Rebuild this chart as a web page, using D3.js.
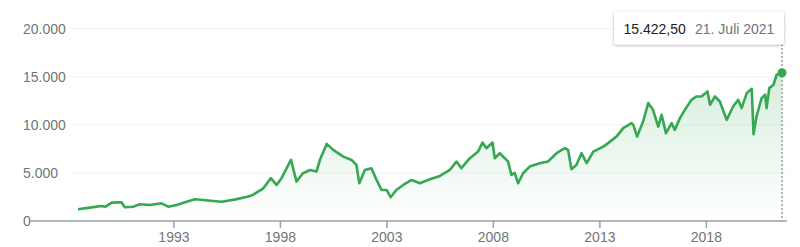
<!DOCTYPE html>
<html>
<head>
<meta charset="utf-8">
<script src="https://cdn.jsdelivr.net/npm/d3@7"></script>
<style>
  html, body { margin: 0; padding: 0; background: #fff; }
  svg { display: block; font-family: Arial, "Liberation Sans", sans-serif; }
</style>
</head>
<body>
<svg id="chart" width="800" height="247"></svg>
<script>
// DAX closing values
const dates = [
  "1988-07-01","1989-01-20","1989-08-05","1989-10-18","1990-01-30","1990-07-16","1990-09-12",
  "1991-02-01","1991-05-25","1991-11-15","1992-06-01","1992-09-25","1993-02-15","1993-08-08",
  "1993-12-30","1994-05-20","1994-11-05","1995-04-01","1995-11-25","1996-07-01","1996-09-15",
  "1997-03-15","1997-07-20","1997-10-28","1998-01-20","1998-07-01","1998-10-05","1999-01-22",
  "1999-05-25","1999-09-12","1999-11-10","2000-03-05","2000-06-25","2000-12-15","2001-05-05",
  "2001-07-28","2001-09-15","2001-12-20","2002-04-12","2002-07-08","2002-10-01","2002-12-28",
  "2003-03-05","2003-06-12","2003-10-08","2004-03-01","2004-07-20","2005-01-08","2005-06-28",
  "2005-12-15","2006-04-08","2006-07-01","2006-11-25","2007-04-15","2007-06-28","2007-09-05",
  "2007-12-18","2008-01-25","2008-04-20","2008-07-15","2008-09-10","2008-11-05","2009-01-01",
  "2009-03-01","2009-05-25","2009-09-15","2010-03-05","2010-07-25","2010-12-20","2011-05-10",
  "2011-07-05","2011-09-01","2011-11-25","2012-02-20","2012-05-20","2012-09-10","2013-03-01",
  "2013-05-22","2013-10-12","2014-02-05","2014-06-28","2014-07-28","2014-10-01","2015-01-12",
  "2015-04-10","2015-07-01","2015-09-28","2015-11-25","2016-02-08","2016-05-15","2016-07-08",
  "2016-10-05","2016-12-28","2017-04-20","2017-07-12","2017-10-08","2018-01-20","2018-03-05",
  "2018-05-28","2018-08-20","2018-12-15","2019-04-05","2019-07-01","2019-08-28","2019-11-25",
  "2020-02-18","2020-03-20","2020-05-10","2020-08-05","2020-10-05","2020-10-30","2020-12-15",
  "2021-02-25","2021-04-20","2021-07-21"
];
const values = [
  1220,1390,1560,1490,1910,1950,1430,
  1490,1740,1670,1840,1490,1670,2010,
  2260,2190,2080,2000,2250,2550,2710,
  3400,4450,3750,4450,6360,4100,4970,
  5310,5140,6360,8020,7400,6700,6350,
  5830,3930,5310,5490,4270,3230,3230,
  2470,3230,3750,4270,3930,4340,4690,
  5310,6180,5490,6530,7220,8160,7570,
  8160,6530,7050,6530,6180,4790,5000,
  3930,4970,5660,6000,6180,7050,7570,
  7400,5390,5830,7050,6010,7220,7740,
  8100,8780,9660,10180,10000,8780,10350,
  12260,11560,9820,11040,9140,10180,9480,
  10700,11560,12600,12950,12950,13470,12090,
  12950,12430,10520,11910,12600,11740,13300,
  13750,9030,10870,12780,13130,11740,13820,
  14170,15210,15422.5
];
const yTicks = [0, 5000, 10000, 15000, 20000];
const xTickYears = [1993, 1998, 2003, 2008, 2013, 2018];
const lastLabel = "21. Juli 2021";

const green = "#34a853";
const parse = d3.timeParse("%Y-%m-%d");
const data = dates.map((d, i) => ({date: parse(d), value: values[i]}));
const de = d3.formatLocale({decimal: ",", thousands: ".", grouping: [3], currency: ["", " €"]});

const svg = d3.select("#chart");

const x = d3.scaleTime()
    .domain([data[0].date, data[data.length - 1].date])
    .range([78, 782]);
const y = d3.scaleLinear()
    .domain([0, 20000])
    .range([221, 28.7]);

const defs = svg.append("defs");
const grad = defs.append("linearGradient")
    .attr("id", "fillGrad")
    .attr("gradientUnits", "userSpaceOnUse")
    .attr("x1", 0).attr("x2", 0)
    .attr("y1", y(15500)).attr("y2", y(0));
grad.append("stop").attr("offset", 0).attr("stop-color", green).attr("stop-opacity", 0.2);
grad.append("stop").attr("offset", 1).attr("stop-color", green).attr("stop-opacity", 0);

const shadow = defs.append("filter").attr("id", "shadow")
    .attr("x", -0.1).attr("y", -0.3).attr("width", 1.2).attr("height", 1.7);
shadow.append("feDropShadow")
    .attr("dx", 0).attr("dy", 1).attr("stdDeviation", 1.5)
    .attr("flood-color", "#000").attr("flood-opacity", 0.3);

// grid + y labels
svg.append("g")
  .selectAll("line")
  .data(yTicks.filter(d => d > 0))
  .join("line")
    .attr("x1", 70).attr("x2", 787)
    .attr("y1", d => y(d)).attr("y2", d => y(d))
    .attr("stroke", "#f1f1f1")
    .attr("stroke-width", 1);

svg.append("g")
  .selectAll("text")
  .data(yTicks)
  .join("text")
    .attr("x", 23)
    .attr("y", d => y(d))
    .attr("dy", "0.36em")
    .attr("font-size", 14)
    .attr("fill", "#70757a")
    .text(d => de.format(",")(d));

// area + line
const area = d3.area()
    .x(d => x(d.date))
    .y0(y(0))
    .y1(d => y(d.value));
svg.append("path")
    .datum(data)
    .attr("d", area)
    .attr("fill", "url(#fillGrad)");

const line = d3.line()
    .x(d => x(d.date))
    .y(d => y(d.value));
svg.append("path")
    .datum(data)
    .attr("d", line)
    .attr("fill", "none")
    .attr("stroke", green)
    .attr("stroke-width", 2.6)
    .attr("stroke-linejoin", "round");

// x axis
const xAxis = svg.append("g");
xAxis.append("line")
    .attr("x1", 30).attr("x2", 787)
    .attr("y1", y(0)).attr("y2", y(0))
    .attr("stroke", "#9aa0a6")
    .attr("stroke-width", 1.5);
const ticks = xAxis.selectAll("g.tick")
  .data(xTickYears)
  .join("g")
    .attr("transform", d => `translate(${x(new Date(d, 0, 1))},0)`);
ticks.append("line")
    .attr("y1", y(0)).attr("y2", y(0) + 7)
    .attr("stroke", "#9aa0a6")
    .attr("stroke-width", 1.5);
ticks.append("text")
    .attr("y", 241.5)
    .attr("text-anchor", "middle")
    .attr("font-size", 14)
    .attr("fill", "#70757a")
    .text(d => d);

// hover marker at last point
const last = data[data.length - 1];
svg.append("line")
    .attr("x1", x(last.date)).attr("x2", x(last.date))
    .attr("y1", 44).attr("y2", y(0))
    .attr("stroke", "#9aa0a6")
    .attr("stroke-width", 1.5)
    .attr("stroke-dasharray", "2,2");
svg.append("circle")
    .attr("cx", x(last.date))
    .attr("cy", y(last.value))
    .attr("r", 4.5)
    .attr("fill", green);

const tip = svg.append("g");
tip.append("rect")
    .attr("x", 614).attr("y", 11.5)
    .attr("width", 170).attr("height", 33)
    .attr("rx", 2)
    .attr("fill", "#fff")
    .attr("filter", "url(#shadow)");
tip.append("text")
    .attr("x", 623.5).attr("y", 34)
    .attr("font-size", 14)
    .attr("fill", "#202124")
    .text(de.format(",.2f")(last.value));
tip.append("text")
    .attr("x", 695).attr("y", 34)
    .attr("font-size", 14)
    .attr("fill", "#70757a")
    .text(lastLabel);
</script>
</body>
</html>
